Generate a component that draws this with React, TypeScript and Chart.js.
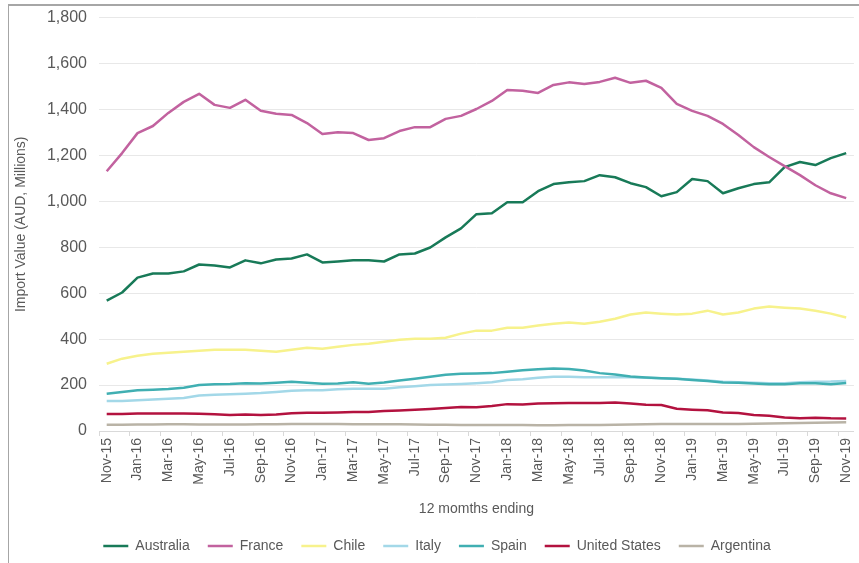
import React, { useEffect, useRef } from "react";
import { Chart, registerables } from "chart.js";

Chart.register(...registerables);

const months = [
  "Nov-15","Dec-15","Jan-16","Feb-16","Mar-16","Apr-16","May-16","Jun-16","Jul-16","Aug-16","Sep-16","Oct-16",
  "Nov-16","Dec-16","Jan-17","Feb-17","Mar-17","Apr-17","May-17","Jun-17","Jul-17","Aug-17","Sep-17","Oct-17",
  "Nov-17","Dec-17","Jan-18","Feb-18","Mar-18","Apr-18","May-18","Jun-18","Jul-18","Aug-18","Sep-18","Oct-18",
  "Nov-18","Dec-18","Jan-19","Feb-19","Mar-19","Apr-19","May-19","Jun-19","Jul-19","Aug-19","Sep-19","Oct-19",
  "Nov-19",
];

const australia = [
  568, 603, 668, 686, 686, 695, 725, 721, 712, 743, 730, 747,
  751, 769, 734, 738, 743, 743, 738, 769, 773, 799, 843, 882,
  944, 948, 996, 996, 1044, 1075, 1083, 1088, 1114, 1105, 1079, 1062,
  1022, 1040, 1097, 1088, 1035, 1057, 1075, 1083, 1149, 1171, 1158, 1188,
  1210,
];
const france = [
  1131, 1210, 1297, 1328, 1385, 1433, 1468, 1420, 1407, 1442, 1394, 1381,
  1376, 1341, 1293, 1301, 1297, 1267, 1275, 1306, 1323, 1323, 1359, 1372,
  1402, 1437, 1485, 1481, 1472, 1507, 1518, 1511, 1520, 1538, 1516, 1525,
  1494, 1424, 1394, 1372, 1337, 1289, 1236, 1193, 1153, 1114, 1070, 1035,
  1014,
];
const chile = [
  293, 315, 328, 336, 341, 345, 349, 354, 354, 354, 349, 345,
  354, 362, 358, 367, 375, 380, 389, 397, 402, 402, 406, 424,
  437, 437, 450, 450, 459, 467, 472, 467, 476, 489, 507, 516,
  511, 507, 511, 524, 507, 516, 533, 542, 537, 533, 524, 511,
  494,
];
const italy = [
  131, 131, 134, 137, 140, 144, 155, 158, 160, 162, 165, 170,
  175, 177, 177, 182, 184, 184, 184, 190, 195, 200, 203, 205,
  208, 212, 222, 225, 232, 236, 236, 234, 234, 234, 234, 232,
  230, 227, 224, 220, 214, 212, 210, 208, 208, 212, 214, 215,
  218,
];
const spain = [
  162, 170, 177, 180, 183, 188, 200, 204, 205, 208, 207, 210,
  214, 210, 206, 207, 212, 206, 211, 220, 228, 236, 245, 249,
  250, 252, 258, 264, 269, 272, 270, 263, 252, 246, 237, 233,
  230, 227, 222, 218, 211, 210, 207, 204, 204, 208, 208, 204,
  209,
];
const unitedStates = [
  74, 74, 76, 76, 76, 76, 75, 73, 70, 72, 70, 72,
  77, 79, 79, 81, 83, 83, 87, 89, 92, 96, 100, 104,
  103, 109, 117, 115, 120, 121, 122, 122, 122, 124, 120, 114,
  113, 97, 93, 90, 81, 78, 70, 66, 59, 55, 58, 55,
  54,
];
const argentina = [
  27, 27, 28, 28, 29, 29, 28, 28, 28, 28, 29, 29,
  30, 30, 30, 30, 29, 29, 29, 29, 28, 27, 27, 26,
  26, 26, 26, 26, 25, 25, 26, 26, 26, 27, 28, 29,
  30, 31, 31, 31, 30, 30, 32, 33, 34, 35, 36, 37,
  38,
];

const seriesNames = ["Australia", "France", "Chile", "Italy", "Spain", "United States", "Argentina"];
const seriesValues = [australia, france, chile, italy, spain, unitedStates, argentina];
const seriesColors = ["#187A58", "#C2629F", "#F7F28C", "#A3D8E8", "#40AFB2", "#B3123F", "#B9B3A6"];

const yTicks = [0, 200, 400, 600, 800, 1000, 1200, 1400, 1600, 1800];

const textColor = "#595959";
const fontFamily = "'Liberation Sans', Arial, sans-serif";

export default function App() {
  const canvasRef = useRef<HTMLCanvasElement | null>(null);

  useEffect(() => {
    if (!canvasRef.current) return;
    const n = seriesNames.length;
    const chart = new Chart(canvasRef.current, {
      type: "line",
      data: {
        labels: months,
        datasets: seriesNames.map((name, i) => ({
          label: name,
          data: seriesValues[i],
          borderColor: seriesColors[i],
          backgroundColor: seriesColors[i],
          borderWidth: 2.5,
          pointRadius: 0,
          pointHoverRadius: 0,
          tension: 0,
          borderJoinStyle: "round" as const,
          fill: false,
          order: n - i,
        })),
      },
      options: {
        animation: false,
        responsive: false,
        maintainAspectRatio: false,
        events: [],
        layout: { padding: { top: -2, right: 0, bottom: -10, left: 0 } },
        font: { family: fontFamily },
        plugins: {
          tooltip: { enabled: false },
          legend: {
            position: "bottom",
            labels: {
              usePointStyle: true,
              pointStyle: "line",
              pointStyleWidth: 25,
              boxHeight: 14,
              padding: 18,
              color: textColor,
              font: { size: 14, family: fontFamily },
              sort: (a: any, b: any) => a.datasetIndex - b.datasetIndex,
            },
          },
        },
        scales: {
          x: {
            type: "category",
            offset: true,
            grid: {
              offset: true,
              drawOnChartArea: false,
              drawTicks: true,
              tickLength: 5,
              tickColor: (ctx: any) => (ctx.index % 2 === 0 ? "#d9d9d9" : "rgba(0,0,0,0)"),
            },
            border: { display: true, color: "#d9d9d9", width: 1 },
            ticks: {
              autoSkip: false,
              minRotation: 90,
              maxRotation: 90,
              padding: 2,
              color: textColor,
              font: { size: 14, family: fontFamily },
              callback: (_v: any, i: number) => (i % 2 === 0 ? months[i] : ""),
            },
            title: {
              display: true,
              text: "12 momths ending",
              color: textColor,
              font: { size: 14, family: fontFamily },
              padding: { top: 0, bottom: 3 },
            },
            afterFit: (s: any) => {
              s.height = 90;
            },
          },
          y: {
            min: 0,
            max: 1800,
            afterBuildTicks: (s: any) => {
              s.ticks = yTicks.map((v) => ({ value: v }));
            },
            grid: { color: "#e8e8e8", drawTicks: false, lineWidth: 1 },
            border: { display: false },
            ticks: {
              padding: 12,
              color: textColor,
              font: { size: 16, family: fontFamily },
              callback: (v: any) => Number(v).toLocaleString("en-US"),
            },
            title: {
              display: true,
              text: "Import Value (AUD, Millions)",
              color: textColor,
              font: { size: 14, family: fontFamily },
              padding: { top: 4, bottom: 0 },
            },
            afterFit: (s: any) => {
              s.width = 90;
            },
          },
        },
      },
    });
    return () => chart.destroy();
  }, []);

  return (
    <div
      style={{
        position: "absolute",
        top: 4,
        left: 8,
        width: 851,
        height: 559,
        borderTop: "2px solid #a6a6a6",
        borderLeft: "1px solid #a6a6a6",
        boxSizing: "border-box",
        background: "#fff",
        overflow: "hidden",
      }}
    >
      <canvas
        ref={canvasRef}
        width={856}
        height={557}
        style={{ display: "block", width: 856, height: 557, marginTop: -10 }}
      />
    </div>
  );
}
